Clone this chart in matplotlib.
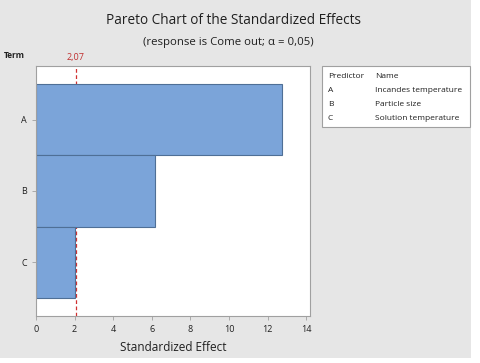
import matplotlib.pyplot as plt
from matplotlib.patches import Rectangle

# Pareto chart data
terms = ["A", "B", "C"]
effects = [12.75, 6.18, 2.02]
ref_value = 2.07
ref_label = "2,07"
x_ticks = [0, 2, 4, 6, 8, 10, 12, 14]
pred_codes = ["A", "B", "C"]
pred_names = ["Incandes temperature", "Particle size", "Solution temperature"]

plt.rcParams['font.family'] = ['Open Sans', 'DejaVu Sans']

fig = plt.figure(figsize=(4.8, 3.63), dpi=100)
fig.patch.set_facecolor("white")
# gray panel (screenshot has a thin white margin at right/bottom)
fig.patches.append(Rectangle((0, 1 - 358 / 363), 471 / 480, 358 / 363, transform=fig.transFigure,
                             facecolor="#e6e6e6", edgecolor="none", zorder=-10))

ax = fig.add_axes([36 / 480, 1 - 316 / 363, 274 / 480, 250 / 363])
ax.set_facecolor("white")
ypos = list(range(len(terms)))
ax.axvline(ref_value, color="#d03030", linestyle=(0, (3, 2)), linewidth=0.9, zorder=1)
ax.barh(ypos, effects, height=1.0, color="#7ba4d9", edgecolor="#4f6f96", linewidth=0.8, zorder=2)
ax.set_xlim(0, 14.2)
ax.set_ylim(len(terms) - 0.25, -0.75)
ax.set_yticks(ypos)
ax.set_yticklabels(terms)
ax.set_xticks(x_ticks)
for s in ax.spines.values():
    s.set_color("#a0a0a0")
    s.set_linewidth(0.8)
ax.tick_params(colors="#a0a0a0", labelcolor="#202020", labelsize=6.5, length=3, width=0.6)
ax.set_xlabel("Standardized Effect", fontsize=8.5, color="#202020", labelpad=5)
ax.text(ref_value, -0.8, ref_label, color="#c03030", fontsize=6.5, ha="center", va="bottom")

fig.text(4 / 480, 1 - 56 / 363, "Term", fontsize=6, fontweight="bold", color="#202020", va="center")
fig.text(233 / 480, 1 - 20 / 363, "Pareto Chart of the Standardized Effects", fontsize=9.8,
         ha="center", va="center", color="#202020")
fig.text(228 / 480, 1 - 43 / 363, "(response is Come out; \u03b1 = 0,05)", fontsize=8.2,
         ha="center", va="center", color="#202020")

# predictor legend box
fig.patches.append(Rectangle((322 / 480, 1 - 127 / 363), 148 / 480, 61 / 363, transform=fig.transFigure,
                             facecolor="white", edgecolor="#a0a0a0", linewidth=0.8))
rows_y = [76, 91, 105, 119]
fig.text(328 / 480, 1 - rows_y[0] / 363, "Predictor", fontsize=6, va="center", color="#202020")
fig.text(375 / 480, 1 - rows_y[0] / 363, "Name", fontsize=6, va="center", color="#202020")
for code, name, yy in zip(pred_codes, pred_names, rows_y[1:]):
    fig.text(328 / 480, 1 - yy / 363, code, fontsize=6, va="center", color="#202020")
    fig.text(375 / 480, 1 - yy / 363, name, fontsize=6, va="center", color="#202020")

fig.savefig("out.png", dpi=100, facecolor=fig.get_facecolor())
